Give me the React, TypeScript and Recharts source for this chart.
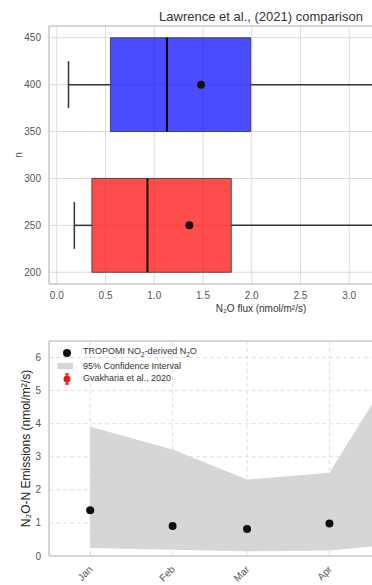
import {
  ComposedChart,
  Scatter,
  Area,
  XAxis,
  YAxis,
  CartesianGrid,
  ReferenceArea,
  ReferenceLine,
  Legend,
} from 'recharts';

// --- top panel: box plots (Lawrence et al. 2021 comparison)
const boxPositions = [400, 250];
const lowerWhisker = [0.12, 0.18];
const q1 = [0.55, 0.36];
const median = [1.13, 0.93];
const mean = [1.48, 1.36];
const q3 = [1.99, 1.79];
const upperWhisker = [4.1, 4.0];
const fluxTicks = [0, 0.5, 1, 1.5, 2, 2.5, 3];
const nTicks = [200, 250, 300, 350, 400, 450];

// --- bottom panel: monthly emissions
const monthDays = [0, 31, 59, 90, 120];
const monthLabels = ['Jan', 'Feb', 'Mar', 'Apr', 'May'];
const monthTicks = [0, 31, 59, 90];
const ciLower = [0.24, 0.19, 0.14, 0.17, 0.39];
const ciUpper = [3.91, 3.22, 2.31, 2.52, 6.4];
const tropomi = [1.38, 0.91, 0.82, 0.98];
const emissionTicks = [0, 1, 2, 3, 4, 5, 6];

const FLUX_DOMAIN: [number, number] = [-0.08, 4.27];
const N_DOMAIN: [number, number] = [187.5, 462.5];
const DAY_DOMAIN: [number, number] = [-15.5, 144];
const EMIS_DOMAIN: [number, number] = [0, 6.5];
const BOX_HALF = 50;
const CAP_HALF = 25;
const boxFill = ['#0000ff', '#ff0000'];

const FONT = '"Liberation Sans", Arial, sans-serif';
const tickStyle = { fontSize: 10, fill: '#555', fontFamily: FONT };

const meanPoints = boxPositions.map((p, i) => ({ x: mean[i], y: p }));
const emissionRows = monthDays.map((d, i) => ({ day: d, band: [ciLower[i], ciUpper[i]] }));
const tropomiPoints = tropomi.map((v, i) => ({ day: monthDays[i], value: v }));

const Dot = (props: any) => <circle cx={props.cx} cy={props.cy} r={4} fill="#111" />;

const MonthTick = (props: any) => {
  const { x, y, payload } = props;
  const idx = monthDays.indexOf(payload.value);
  const tx = x + 3;
  const ty = y + 6;
  return (
    <text
      x={tx}
      y={ty}
      transform={`rotate(-45, ${tx}, ${ty})`}
      textAnchor="end"
      fontSize={10}
      fill="#555"
      fontFamily={FONT}
    >
      {monthLabels[idx]}
    </text>
  );
};

const sub = { fontSize: 6.5 };

const renderLegend = () => (
  <div style={{ fontFamily: FONT, fontSize: 9, color: '#333', lineHeight: '12.7px' }}>
    <div style={{ display: 'flex', alignItems: 'center', height: 12.7 }}>
      <svg width={27} height={12}>
        <circle cx={11} cy={6} r={4} fill="#111" />
      </svg>
      <span>
        TROPOMI NO<sub style={sub}>2</sub>-derived N<sub style={sub}>2</sub>O
      </span>
    </div>
    <div style={{ display: 'flex', alignItems: 'center', height: 12.7 }}>
      <svg width={27} height={12}>
        <rect x={1.5} y={3} width={15.5} height={6} fill="#d6d6d6" />
      </svg>
      <span>95% Confidence Interval</span>
    </div>
    <div style={{ display: 'flex', alignItems: 'center', height: 12.7 }}>
      <svg width={27} height={12}>
        <line x1={11} y1={1} x2={11} y2={11} stroke="#e02020" strokeWidth={1.5} />
        <line x1={9} y1={1} x2={13} y2={1} stroke="#e02020" strokeWidth={1.5} />
        <line x1={9} y1={11} x2={13} y2={11} stroke="#e02020" strokeWidth={1.5} />
        <circle cx={11} cy={6} r={3.5} fill="#e02020" />
      </svg>
      <span>Gvakharia et al., 2020</span>
    </div>
  </div>
);

export default function App() {
  return (
    <div
      style={{
        position: 'absolute',
        top: 0,
        left: 0,
        width: 372,
        height: 585,
        overflow: 'hidden',
        background: '#fff',
        fontFamily: FONT,
      }}
    >
      <div
        style={{
          position: 'absolute',
          top: 9,
          left: 49,
          width: 424,
          textAlign: 'center',
          fontSize: 13,
          lineHeight: '16px',
          color: '#333',
        }}
      >
        Lawrence et al., (2021) comparison
      </div>

      <div style={{ position: 'absolute', top: 0, left: 0 }}>
        <ComposedChart width={480} height={320} margin={{ top: 26, right: 7, bottom: 0, left: 0 }}>
          <CartesianGrid stroke="#dcdcdc" strokeWidth={1} />
          <XAxis
            dataKey="x"
            type="number"
            domain={FLUX_DOMAIN}
            ticks={fluxTicks}
            tickFormatter={(v: number) => v.toFixed(1)}
            height={36}
            tickLine={false}
            axisLine={{ stroke: '#ccc', strokeWidth: 1.5 }}
            tick={tickStyle}
            allowDataOverflow
            label={{
              value: 'N₂O flux (nmol/m²/s)',
              position: 'insideBottom',
              offset: 8,
              style: { fontSize: 10, fill: '#333', fontFamily: FONT },
            }}
          />
          <YAxis
            dataKey="y"
            type="number"
            domain={N_DOMAIN}
            ticks={nTicks}
            width={49}
            tickLine={false}
            axisLine={{ stroke: '#ccc', strokeWidth: 1.5 }}
            tick={tickStyle}
            allowDataOverflow
            label={{
              value: 'n',
              angle: -90,
              position: 'insideLeft',
              offset: 18,
              style: { textAnchor: 'middle', fontSize: 10, fill: '#555', fontFamily: FONT },
            }}
          />
          <ReferenceLine y={N_DOMAIN[1]} stroke="#ccc" strokeWidth={1.5} />
          {boxPositions.map((p, i) => (
            <ReferenceArea
              key={`box-${i}`}
              x1={q1[i]}
              x2={q3[i]}
              y1={p - BOX_HALF}
              y2={p + BOX_HALF}
              fill={boxFill[i]}
              fillOpacity={0.7}
              stroke="#333"
              strokeOpacity={0.8}
              strokeWidth={1}
            />
          ))}
          {boxPositions.map((p, i) => (
            <ReferenceLine
              key={`lw-${i}`}
              segment={[
                { x: lowerWhisker[i], y: p },
                { x: q1[i], y: p },
              ]}
              stroke="#333"
              strokeWidth={1.5}
            />
          ))}
          {boxPositions.map((p, i) => (
            <ReferenceLine
              key={`cap-${i}`}
              segment={[
                { x: lowerWhisker[i], y: p - CAP_HALF },
                { x: lowerWhisker[i], y: p + CAP_HALF },
              ]}
              stroke="#333"
              strokeWidth={1.5}
            />
          ))}
          {boxPositions.map((p, i) => (
            <ReferenceLine
              key={`uw-${i}`}
              segment={[
                { x: q3[i], y: p },
                { x: upperWhisker[i], y: p },
              ]}
              stroke="#333"
              strokeWidth={1.5}
            />
          ))}
          {boxPositions.map((p, i) => (
            <ReferenceLine
              key={`med-${i}`}
              segment={[
                { x: median[i], y: p - BOX_HALF },
                { x: median[i], y: p + BOX_HALF },
              ]}
              stroke="#000"
              strokeWidth={2}
            />
          ))}
          <Scatter data={meanPoints} dataKey="y" shape={Dot} isAnimationActive={false} />
        </ComposedChart>
      </div>

      <div style={{ position: 'absolute', top: 320, left: 0 }}>
        <ComposedChart
          width={480}
          height={265}
          data={emissionRows}
          margin={{ top: 21, right: 7, bottom: 0, left: 0 }}
        >
          <CartesianGrid stroke="#dedede" strokeDasharray="4 3" />
          <XAxis
            dataKey="day"
            type="number"
            domain={DAY_DOMAIN}
            ticks={monthTicks}
            height={29}
            tickLine={false}
            axisLine={{ stroke: '#ccc', strokeWidth: 1.5 }}
            tick={<MonthTick />}
            allowDataOverflow
          />
          <YAxis
            type="number"
            domain={EMIS_DOMAIN}
            ticks={emissionTicks}
            width={49}
            tickLine={false}
            axisLine={{ stroke: '#ccc', strokeWidth: 1.5 }}
            tick={tickStyle}
            allowDataOverflow
            label={{
              value: 'N₂O-N Emissions (nmol/m²/s)',
              angle: -90,
              position: 'insideLeft',
              offset: 26,
              style: { textAnchor: 'middle', fontSize: 12, fill: '#222', fontFamily: FONT },
            }}
          />
          <ReferenceLine y={EMIS_DOMAIN[1]} stroke="#ccc" strokeWidth={1.5} />
          <Area
            type="linear"
            dataKey="band"
            fill="#d6d6d6"
            fillOpacity={1}
            stroke="none"
            isAnimationActive={false}
          />
          <Scatter data={tropomiPoints} dataKey="value" shape={Dot} isAnimationActive={false} />
          <Legend
            layout="vertical"
            align="center"
            verticalAlign="middle"
            content={renderLegend}
            wrapperStyle={{ top: 27, left: 56, width: 200 }}
          />
        </ComposedChart>
      </div>
    </div>
  );
}
